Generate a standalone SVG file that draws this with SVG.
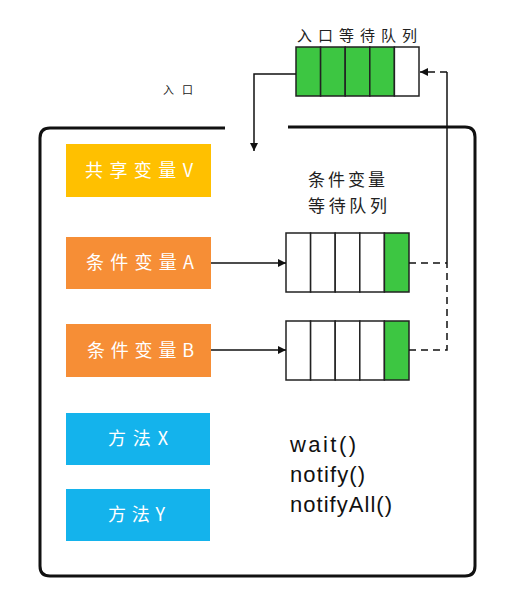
<svg xmlns="http://www.w3.org/2000/svg" width="524" height="608" viewBox="0 0 524 608">
<style>
.cjk{font-family:"Noto Sans CJK SC","Noto Sans",sans-serif;}
.lbl{fill:#fff;font-size:18px;}
.dark{fill:#222;}
.cell{stroke:#222;stroke-width:1.5;}
.g{fill:#3DC642;}
.w{fill:#fff;}
.ln{fill:none;stroke:#111;stroke-width:1.5;}
.dash{fill:none;stroke:#111;stroke-width:1.5;stroke-dasharray:7,5;}
.mono{font-family:"Liberation Sans","DejaVu Sans",sans-serif;font-size:22px;fill:#111;}
</style>
<defs>
<marker id="ah" viewBox="0 0 10 10" refX="10" refY="5" markerWidth="8" markerHeight="8" markerUnits="userSpaceOnUse" orient="auto">
<path d="M0,0 L10,5 L0,10 z" fill="#111"/>
</marker>
</defs>
<rect width="524" height="608" fill="#fff"/>

<g id="monitor">
<path d="M225,128 H50 Q40,128 40,138 V566 Q40,576 50,576 H465 Q475,576 475,566 V137 Q475,127 465,127 H288" fill="none" stroke="#111" stroke-width="3"/>
<text x="163" y="94" class="cjk dark" font-size="11" textLength="30" lengthAdjust="spacing">入口</text>
</g>

<g id="entry-queue">
<text x="297" y="41" class="cjk dark" font-size="15" textLength="120" lengthAdjust="spacing">入口等待队列</text>
<rect x="296" y="47" width="24.6" height="49" class="cell g"/>
<rect x="320.6" y="47" width="24.6" height="49" class="cell g"/>
<rect x="345.2" y="47" width="24.6" height="49" class="cell g"/>
<rect x="369.8" y="47" width="24.6" height="49" class="cell g"/>
<rect x="394.4" y="47" width="24.6" height="49" class="cell w"/>
</g>

<g id="shared-var">
<rect x="66" y="144" width="145" height="53" fill="#FFC000"/>
<text x="85" y="177" class="cjk lbl" textLength="108" lengthAdjust="spacing">共享变量V</text>
</g>

<g id="cond-a">
<rect x="66" y="237" width="145" height="52" fill="#F68E36"/>
<text x="86" y="269" class="cjk lbl" textLength="108" lengthAdjust="spacing">条件变量A</text>
</g>

<g id="cond-b">
<rect x="66" y="324" width="145" height="53" fill="#F68E36"/>
<text x="87" y="357" class="cjk lbl" textLength="107" lengthAdjust="spacing">条件变量B</text>
</g>

<g id="method-x">
<rect x="66" y="413" width="144" height="52" fill="#14B3EC"/>
<text x="108" y="445" class="cjk lbl" textLength="60" lengthAdjust="spacing">方法X</text>
</g>

<g id="method-y">
<rect x="66" y="489" width="144" height="52" fill="#14B3EC"/>
<text x="108" y="521" class="cjk lbl" textLength="57" lengthAdjust="spacing">方法Y</text>
</g>

<g id="cond-queue-label">
<text x="308" y="186" class="cjk dark" font-size="17" textLength="77" lengthAdjust="spacing">条件变量</text>
<text x="308" y="212" class="cjk dark" font-size="17" textLength="79" lengthAdjust="spacing">等待队列</text>
</g>

<g id="queue-a">
<rect x="286" y="233" width="24.6" height="59" class="cell w"/>
<rect x="310.6" y="233" width="24.6" height="59" class="cell w"/>
<rect x="335.2" y="233" width="24.6" height="59" class="cell w"/>
<rect x="359.8" y="233" width="24.6" height="59" class="cell w"/>
<rect x="384.4" y="233" width="24.6" height="59" class="cell g"/>
</g>

<g id="queue-b">
<rect x="286" y="321" width="24.6" height="59" class="cell w"/>
<rect x="310.6" y="321" width="24.6" height="59" class="cell w"/>
<rect x="335.2" y="321" width="24.6" height="59" class="cell w"/>
<rect x="359.8" y="321" width="24.6" height="59" class="cell w"/>
<rect x="384.4" y="321" width="24.6" height="59" class="cell g"/>
</g>

<g id="methods-text">
<text x="290" y="452" class="mono" textLength="66" lengthAdjust="spacing">wait()</text>
<text x="290" y="482" class="mono" textLength="75" lengthAdjust="spacing">notify()</text>
<text x="290" y="512" class="mono" textLength="102" lengthAdjust="spacing">notifyAll()</text>
</g>

<g id="connectors">
<path d="M296,74 H254 V151" class="ln" marker-end="url(#ah)"/>
<path d="M211,263 H286" class="ln" marker-end="url(#ah)"/>
<path d="M211,350 H286" class="ln" marker-end="url(#ah)"/>
<path d="M409,263 H447" class="dash"/>
<path d="M409,350 H447 V263" class="dash"/>
<path d="M447,263 V72" class="ln"/>
<path d="M447,72 H420" class="dash" marker-end="url(#ah)"/>
</g>
</svg>
